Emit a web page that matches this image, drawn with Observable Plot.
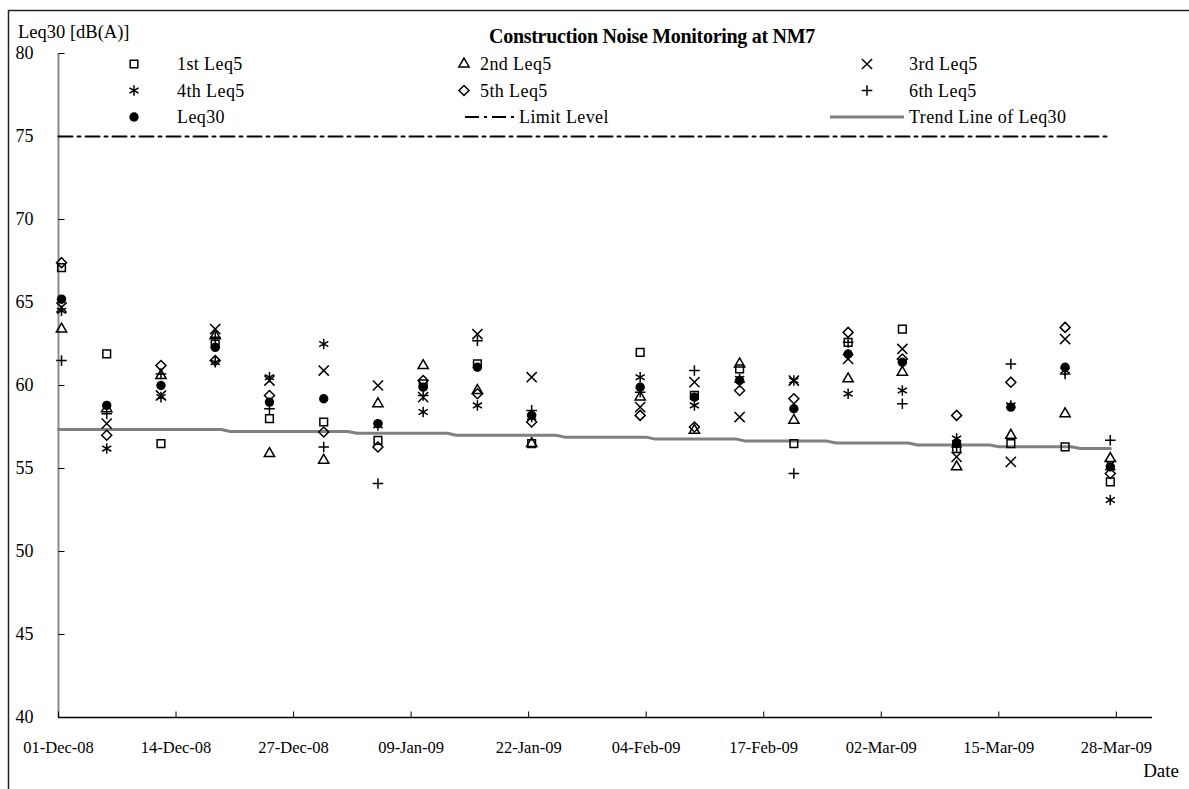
<!DOCTYPE html>
<html>
<head>
<meta charset="utf-8">
<script src="https://cdn.jsdelivr.net/npm/d3@7"></script>
<script src="https://cdn.jsdelivr.net/npm/@observablehq/plot@0.6"></script>
<style>
  html, body { margin: 0; padding: 0; background: #fff; overflow: hidden; }
  #wrap { position: relative; width: 1189px; height: 789px; overflow: hidden; background: #fff; }
  #chart { position: absolute; left: 0; top: 0; }
  #overlay { position: absolute; left: 0; top: 0; pointer-events: none; }
</style>
</head>
<body>
<div id="wrap">
  <div id="chart"></div>
  <svg id="overlay" width="1189" height="789"></svg>
</div>
<script>
// ---------------- DATA ----------------
const measureDates = ["2008-12-01","2008-12-06","2008-12-12","2008-12-18","2008-12-24","2008-12-30",
  "2009-01-05","2009-01-10","2009-01-16","2009-01-22","2009-02-03","2009-02-09","2009-02-14",
  "2009-02-20","2009-02-26","2009-03-04","2009-03-10","2009-03-16","2009-03-22","2009-03-27"];
const measureTime = "T08:00:00Z";

const leq5First  = [67.1,61.9,56.5,62.5,58.0,57.8,56.7,60.1,61.3,56.5,62.0,59.4,61.0,56.5,62.6,63.4,56.2,56.5,56.3,54.2];
const leq5Second = [63.4,58.6,60.6,63.0,55.9,55.5,58.9,61.2,59.7,56.5,59.3,57.3,61.3,57.9,60.4,60.8,55.1,57.0,58.3,55.6];
const leq5Third  = [64.7,57.7,59.4,63.4,60.3,60.9,60.0,59.3,63.1,60.5,58.7,60.2,58.1,60.3,61.6,62.2,55.7,55.4,62.8,55.2];
const leq5Fourth = [64.5,56.2,59.3,61.4,60.5,62.5,57.6,58.4,58.8,58.1,60.5,58.8,60.4,60.3,59.5,59.7,56.8,58.8,60.9,53.1];
const leq5Fifth  = [67.4,57.0,61.2,61.5,59.4,57.2,56.3,60.3,59.5,57.8,58.2,57.5,59.7,59.2,63.2,61.6,58.2,60.2,63.5,54.7];
const leq5Sixth  = [61.5,58.3,60.7,62.9,58.6,56.3,54.1,59.4,62.7,58.5,59.6,60.9,60.2,54.7,62.6,58.9,56.3,61.3,60.7,56.7];
const leq30      = [65.2,58.8,60.0,62.3,59.0,59.2,57.7,59.9,61.1,58.2,59.9,59.3,60.3,58.6,61.9,61.4,56.5,58.7,61.1,55.1];

const trendDates  = ["2008-12-01","2008-12-19","2008-12-20","2009-01-02","2009-01-03","2009-01-13","2009-01-14",
  "2009-01-25","2009-01-26","2009-02-04","2009-02-05","2009-02-14","2009-02-15","2009-02-24","2009-02-25",
  "2009-03-05","2009-03-06","2009-03-14","2009-03-15","2009-03-23","2009-03-24","2009-03-27T08:00:00"];
const trendValues = [57.35,57.35,57.23,57.23,57.12,57.12,57.0,57.0,56.89,56.89,56.77,56.77,56.65,56.65,56.54,
  56.54,56.42,56.42,56.31,56.31,56.2,56.2];

const limitDates  = ["2008-12-01","2009-03-27"];
const limitLevel  = 75;

const yTicks      = [40,45,50,55,60,65,70,75,80];
const xTickDates  = ["2008-12-01","2008-12-14","2008-12-27","2009-01-09","2009-01-22","2009-02-04",
  "2009-02-17","2009-03-02","2009-03-15","2009-03-28"];
const xDomainDates = ["2008-12-01","2009-04-01"];

const seriesNames = ["1st Leq5","2nd Leq5","3rd Leq5","4th Leq5","5th Leq5","6th Leq5","Leq30"];
const titleText = "Construction Noise Monitoring at NM7";
const yLabelText = "Leq30 [dB(A)]";
const xLabelText = "Date";
const limitName = "Limit Level";
const trendName = "Trend Line of Leq30";

// ---------------- BUILD ----------------
const toDate = s => new Date(s.length > 10 ? (s.endsWith("Z") ? s : s + "Z") : s + "T00:00:00Z");
const measRows = vals => measureDates.map((d, i) => ({date: toDate(d + measureTime), value: vals[i]}));
const trendRows = trendDates.map((d, i) => ({date: toDate(d), value: trendValues[i]}));
const limitRows = limitDates.map(d => ({date: toDate(d), value: limitLevel}));

const seriesDefs = [
  {name: seriesNames[0], values: leq5First,  symbol: d3.symbolSquare2,  r: 4.9},
  {name: seriesNames[1], values: leq5Second, symbol: d3.symbolTriangle2, r: 4.9},
  {name: seriesNames[2], values: leq5Third,  symbol: d3.symbolTimes,    r: 4.7},
  {name: seriesNames[3], values: leq5Fourth, symbol: d3.symbolAsterisk, r: 5.0},
  {name: seriesNames[4], values: leq5Fifth,  symbol: d3.symbolDiamond2, r: 4.5},
  {name: seriesNames[5], values: leq5Sixth,  symbol: d3.symbolPlus,     r: 3.5},
];
const leqDef = {name: seriesNames[6], values: leq30, symbol: d3.symbolCircle, r: 4.7};

const serif = '"Liberation Serif", "Times New Roman", serif';
const tickRightSymbol = {draw(ctx) { ctx.moveTo(0, 0); ctx.lineTo(6, 0); }};
const tickUpSymbol    = {draw(ctx) { ctx.moveTo(0, 0); ctx.lineTo(0, -6); }};

const chart = Plot.plot({
  width: 1189,
  height: 789,
  marginLeft: 58,
  marginRight: 37,
  marginTop: 53,
  marginBottom: 72,
  style: {fontFamily: serif, fontSize: "16px", color: "#000", background: "transparent", overflow: "visible"},
  x: {type: "utc", domain: xDomainDates.map(toDate)},
  y: {domain: [yTicks[0], yTicks[yTicks.length - 1]]},
  marks: [
    Plot.ruleX([toDate(xDomainDates[0])], {y1: yTicks[0], y2: yTicks[yTicks.length - 1], stroke: "#8a8a8a", strokeWidth: 2}),
    Plot.ruleY([yTicks[0]], {stroke: "#000", strokeWidth: 1.5}),
    Plot.dot(yTicks, {y: d => d, frameAnchor: "left", symbol: tickRightSymbol, stroke: "#000", strokeWidth: 1, fill: "none"}),
    Plot.dot(xTickDates.map(toDate), {x: d => d, frameAnchor: "bottom", symbol: tickUpSymbol, stroke: "#000", strokeWidth: 1, fill: "none"}),
    Plot.axisY({ticks: yTicks, tickSize: 0, tickPadding: 25, label: null, fontSize: 18, tickFormat: d => String(d)}),
    Plot.axisX({ticks: xTickDates.map(toDate), tickSize: 0, tickPadding: 24, label: null, fontSize: 16.5,
      tickFormat: d3.utcFormat("%d-%b-%y")}),
    Plot.line(limitRows, {x: "date", y: "value", stroke: "#000", strokeWidth: 2, strokeDasharray: "14,5,3,5"}),
    Plot.line(trendRows, {x: "date", y: "value", stroke: "#808080", strokeWidth: 3}),
    ...seriesDefs.map(s => Plot.dot(measRows(s.values), {x: "date", y: "value", symbol: s.symbol, r: s.r,
      stroke: "#000", strokeWidth: 1.5, fill: "none"})),
    Plot.dot(measRows(leqDef.values), {x: "date", y: "value", symbol: leqDef.symbol, r: leqDef.r, fill: "#000", stroke: "none"})
  ]
});
document.getElementById("chart").appendChild(chart);

// ---------------- OVERLAY: frame, titles, legend ----------------
const ov = d3.select("#overlay");
ov.append("path").attr("d", "M8.5,789 V10.5 H1189").attr("fill", "none").attr("stroke", "#222").attr("stroke-width", 1.5);

ov.append("text").attr("x", 652).attr("y", 36).attr("text-anchor", "middle").attr("dominant-baseline", "central")
  .attr("font-family", serif).attr("font-weight", "bold").attr("font-size", 20).attr("letter-spacing", -0.3).text(titleText);
ov.append("text").attr("x", 18).attr("y", 32).attr("dominant-baseline", "central")
  .attr("font-family", serif).attr("font-size", 18.5).text(yLabelText);
ov.append("text").attr("x", 1179).attr("y", 770).attr("text-anchor", "end").attr("dominant-baseline", "central")
  .attr("font-family", serif).attr("font-size", 19).text(xLabelText);

const rowsY = [64, 90.5, 117];
const legendItems = [
  {def: seriesDefs[0], mx: 134, tx: 177, y: rowsY[0]},
  {def: seriesDefs[1], mx: 464, tx: 480, y: rowsY[0]},
  {def: seriesDefs[2], mx: 867, tx: 909, y: rowsY[0]},
  {def: seriesDefs[3], mx: 134, tx: 177, y: rowsY[1]},
  {def: seriesDefs[4], mx: 464, tx: 480, y: rowsY[1]},
  {def: seriesDefs[5], mx: 867, tx: 909, y: rowsY[1]},
  {def: leqDef,        mx: 134, tx: 177, y: rowsY[2], filled: true},
];
legendItems.forEach(it => {
  const p = d3.symbol().type(it.def.symbol).size(Math.PI * it.def.r * it.def.r)();
  ov.append("path").attr("d", p).attr("transform", `translate(${it.mx},${it.y})`)
    .attr("fill", it.filled ? "#000" : "none").attr("stroke", it.filled ? "none" : "#000").attr("stroke-width", 1.5);
  ov.append("text").attr("x", it.tx).attr("y", it.y).attr("dominant-baseline", "central")
    .attr("font-family", serif).attr("font-size", 18).attr("letter-spacing", 0.4).text(it.def.name);
});
// limit level legend
ov.append("line").attr("x1", 465).attr("x2", 518).attr("y1", rowsY[2]).attr("y2", rowsY[2])
  .attr("stroke", "#000").attr("stroke-width", 2).attr("stroke-dasharray", "14,5,3,5");
ov.append("text").attr("x", 519).attr("y", rowsY[2]).attr("dominant-baseline", "central")
  .attr("font-family", serif).attr("font-size", 18).attr("letter-spacing", 0.4).text(limitName);
// trend legend
ov.append("line").attr("x1", 830).attr("x2", 904).attr("y1", rowsY[2]).attr("y2", rowsY[2])
  .attr("stroke", "#808080").attr("stroke-width", 3);
ov.append("text").attr("x", 909).attr("y", rowsY[2]).attr("dominant-baseline", "central")
  .attr("font-family", serif).attr("font-size", 18).attr("letter-spacing", 0.4).text(trendName);
</script>
</body>
</html>
